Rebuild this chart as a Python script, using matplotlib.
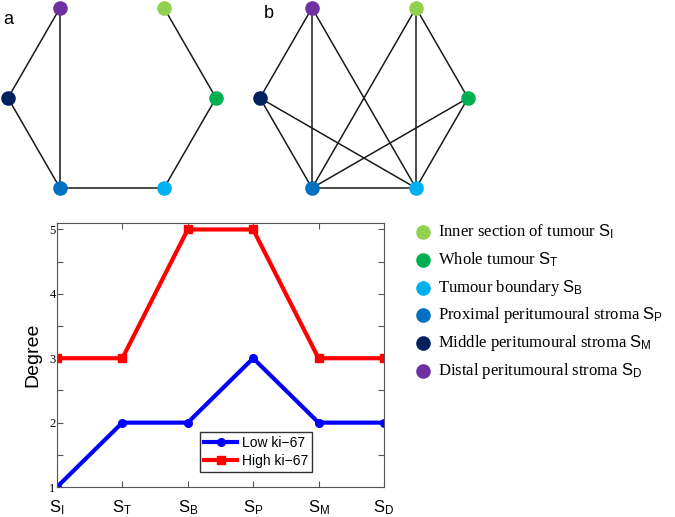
import numpy as np
import matplotlib
matplotlib.use('Agg')
import matplotlib.pyplot as plt

plt.rcParams['font.family'] = 'Liberation Sans'
plt.rcParams['mathtext.fontset'] = 'custom'
plt.rcParams['mathtext.sf'] = 'Liberation Sans'
plt.rcParams['mathtext.rm'] = 'Liberation Sans'
plt.rcParams['mathtext.it'] = 'Liberation Sans'

# regions (node order around the hexagon)
regions = ['I', 'T', 'B', 'P', 'M', 'D']
region_names = ['Inner section of tumour', 'Whole tumour', 'Tumour boundary',
                'Proximal peritumoural stroma', 'Middle peritumoural stroma',
                'Distal peritumoural stroma']
node_colors = ['#92D050', '#00B050', '#00B0F0', '#0070C0', '#002060', '#7030A0']

# network edges (indices into regions)
edges_low = [(5, 4), (5, 3), (4, 3), (3, 2), (2, 1), (1, 0)]
edges_high = [(5, 4), (5, 3), (5, 2), (0, 3), (0, 2), (0, 1),
              (4, 3), (4, 2), (1, 3), (1, 2), (3, 2)]

# degree per region
low_degree = [1, 2, 2, 3, 2, 2]
high_degree = [3, 3, 5, 5, 3, 3]

fig = plt.figure(figsize=(6.75, 5.17), dpi=100)

# overlay in pixel coordinates for the networks and colour key
over = fig.add_axes([0, 0, 1, 1])
over.set_xlim(0, 675)
over.set_ylim(517, 0)
over.axis('off')


def hexagon(cx, cy, r):
    ang = np.deg2rad(60 - 60 * np.arange(6))
    return cx + r * np.cos(ang), cy - r * np.sin(ang)


for (cx, cy), edges, lab, lpos in [((112, 98), edges_low, 'a', (8, 20)),
                                   ((364, 98), edges_high, 'b', (269, 14))]:
    xs, ys = hexagon(cx, cy, 104)
    for i, j in edges:
        over.plot([xs[i], xs[j]], [ys[i], ys[j]], color='#1a1a1a', lw=1.1, zorder=1)
    for k in range(6):
        over.plot(xs[k], ys[k], 'o', ms=10.5, color=node_colors[k], mec='none', zorder=2)
    over.text(lpos[0], lpos[1], lab, fontsize=13, ha='center', va='center')

# colour key
for k in range(6):
    y = 232 + k * 27.8
    over.plot(423, y, 'o', ms=10.5, color=node_colors[k], mec='none')
    over.text(438, y, region_names[k] + ' $\\mathsf{S_{%s}}$' % regions[k],
              fontsize=12, family='Liberation Serif', va='center', ha='left')

# degree plot
ax = fig.add_axes([0.0844, 0.058, 0.4844, 0.5106])
x = np.arange(1, 7)
ax.plot(x, low_degree, '-o', color='#0000FF', lw=3, ms=5.5, label='Low ki\u221267')
ax.plot(x, high_degree, '-s', color='#FF0000', lw=3, ms=5.5, label='High ki\u221267')
ax.set_xlim(1, 6)
ax.set_ylim(1, 5.1)
ax.set_xticks(x)
ax.set_xticklabels(['$\\mathsf{S_{%s}}$' % r for r in regions], fontsize=12)
ax.set_yticks(np.arange(1, 5.01, 0.5))
ax.set_yticklabels(['1', '', '2', '', '3', '', '4', '', '5'],
                   family='Liberation Serif', fontsize=9)
ax.tick_params(direction='in', top=True, right=True, length=4, color='#555555')
ax.tick_params(axis='x', pad=8)
ax.tick_params(axis='y', pad=1)
for s in ax.spines.values():
    s.set_color('#555555')
ax.set_ylabel('Degree', fontsize=14, labelpad=6)
ax.legend(loc='lower left', bbox_to_anchor=(0.437, 0.057), borderaxespad=0,
          fontsize=10, fancybox=False, edgecolor='#333333', framealpha=1,
          handlelength=2.4, borderpad=0.3, labelspacing=0.25, handletextpad=0.3)

fig.savefig('out.png', dpi=100)
